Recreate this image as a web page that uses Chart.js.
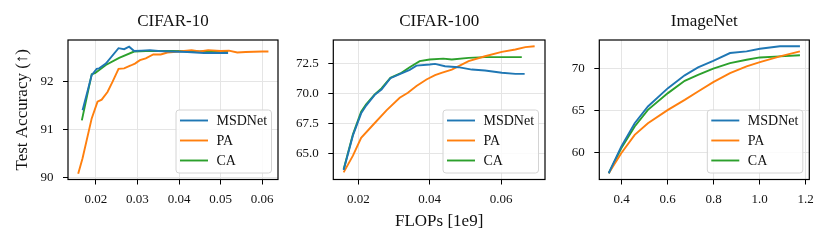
<!DOCTYPE html>
<html>
<head>
<meta charset="utf-8">
<script src="https://cdn.jsdelivr.net/npm/chart.js@4.4.1/dist/chart.umd.min.js"></script>
<style>
  html, body { margin: 0; padding: 0; background: #fff; }
  #wrap { position: relative; width: 830px; height: 248px; overflow: hidden; }
  canvas { position: absolute; top: 0; }
</style>
</head>
<body>
<div id="wrap">
  <canvas id="c1" width="285" height="248" style="left:0px"></canvas>
  <canvas id="c2" width="270" height="248" style="left:285px"></canvas>
  <canvas id="c3" width="275" height="248" style="left:555px"></canvas>
</div>
<script>
// series names + colours
const seriesNames = ['MSDNet', 'PA', 'CA'];
const seriesColors = ['#1f77b4', '#ff7f0e', '#2ca02c'];

// CIFAR-10 (FLOPs in 1e9, test accuracy %)
const c10MsdX = [0.0168, 0.0190, 0.0202, 0.0208, 0.0224, 0.02545, 0.0268, 0.0280, 0.0292, 0.0310, 0.0330, 0.0350, 0.0380, 0.0420, 0.0460, 0.0500, 0.0518];
const c10MsdY = [91.40, 92.13, 92.26, 92.27, 92.37, 92.69, 92.67, 92.72, 92.63, 92.64, 92.65, 92.63, 92.62, 92.61, 92.59, 92.59, 92.59];
const c10PaX = [0.01575, 0.0168, 0.0190, 0.0204, 0.0214, 0.0228, 0.0240, 0.02545, 0.0268, 0.0284, 0.0294, 0.0306, 0.0320, 0.0338, 0.0356, 0.0372, 0.0400, 0.0430, 0.0450, 0.0470, 0.0500, 0.0520, 0.0540, 0.0560, 0.0600, 0.0615];
const c10PaY = [90.08, 90.40, 91.23, 91.58, 91.62, 91.78, 91.99, 92.26, 92.27, 92.33, 92.37, 92.44, 92.48, 92.56, 92.56, 92.60, 92.62, 92.65, 92.62, 92.65, 92.63, 92.64, 92.60, 92.61, 92.62, 92.62];
const c10CaX = [0.01663, 0.0190, 0.0198, 0.0224, 0.0256, 0.0292, 0.0320, 0.0360, 0.0400, 0.0450, 0.0500, 0.0518];
const c10CaY = [91.19, 92.15, 92.17, 92.34, 92.49, 92.62, 92.63, 92.63, 92.63, 92.62, 92.63, 92.62];

// CIFAR-100
const c100MsdX = [0.0159, 0.0185, 0.0208, 0.0222, 0.0246, 0.0265, 0.0290, 0.0321, 0.0344, 0.0363, 0.0400, 0.0415, 0.0443, 0.0480, 0.0518, 0.0555, 0.0602, 0.0640, 0.0666];
const c100MsdY = [63.6, 66.5, 68.35, 69.0, 69.9, 70.35, 71.3, 71.7, 72.0, 72.35, 72.44, 72.5, 72.3, 72.22, 72.02, 71.94, 71.75, 71.66, 71.66];
const c100PaX = [0.0159, 0.0185, 0.0208, 0.0241, 0.0279, 0.0316, 0.0339, 0.0363, 0.0391, 0.0415, 0.0433, 0.0462, 0.0509, 0.0555, 0.0602, 0.0640, 0.0668, 0.0694];
const c100PaY = [63.4, 64.8, 66.3, 67.37, 68.6, 69.66, 70.08, 70.64, 71.19, 71.55, 71.75, 72.02, 72.73, 73.14, 73.5, 73.7, 73.9, 73.98];
const c100CaX = [0.0159, 0.0185, 0.0208, 0.0222, 0.0246, 0.0265, 0.0290, 0.0321, 0.0344, 0.0372, 0.0400, 0.0438, 0.0462, 0.0509, 0.0555, 0.0658];
const c100CaY = [63.66, 66.59, 68.49, 69.1, 69.93, 70.44, 71.33, 71.75, 72.22, 72.73, 72.86, 72.94, 72.86, 73.0, 73.06, 73.06];

// ImageNet (shared x)
const inX = [0.3435, 0.398, 0.4565, 0.514, 0.601, 0.674, 0.732, 0.798, 0.871, 0.943, 1.001, 1.088, 1.175];
const inMsdY = [57.54, 60.71, 63.49, 65.48, 67.65, 69.17, 70.12, 70.9, 71.82, 72.02, 72.33, 72.62, 72.62];
const inPaY = [57.54, 59.92, 62.1, 63.49, 65.07, 66.26, 67.26, 68.37, 69.44, 70.24, 70.75, 71.42, 72.02];
const inCaY = [57.54, 60.5, 63.1, 65.07, 67.06, 68.52, 69.24, 69.96, 70.63, 71.02, 71.3, 71.42, 71.55];

// tick labels
const c10XTicks = [0.02, 0.03, 0.04, 0.05, 0.06];
const c10YTicks = [90, 91, 92];
const c100XTicks = [0.02, 0.04, 0.06];
const c100YTicks = [65, 67.5, 70, 72.5];
const inXTicks = [0.4, 0.6, 0.8, 1.0, 1.2];
const inYTicks = [60, 65, 70];

const FONT = "'Liberation Serif', 'DejaVu Serif', serif";
const TXT = '#111';

const zip = (xs, ys) => xs.map((x, i) => ({ x: x, y: ys[i] }));

// frame, panel title and in-axes legend
const panelPlugin = {
  id: 'panel',
  afterDraw(chart, args, opts) {
    const { ctx, chartArea: a } = chart;
    ctx.save();
    // title
    ctx.fillStyle = TXT;
    ctx.font = '17px ' + FONT;
    ctx.textAlign = 'center';
    ctx.textBaseline = 'middle';
    ctx.fillText(opts.title, (a.left + a.right) / 2, 22);
    // legend
    const w = 95.5, h = 63;
    const lx = a.right - 6.5 - w, ly = a.bottom - 6.5 - h;
    ctx.beginPath();
    ctx.roundRect(lx, ly, w, h, 3);
    ctx.fillStyle = 'rgba(255,255,255,0.85)';
    ctx.fill();
    ctx.strokeStyle = '#d4d4d4';
    ctx.lineWidth = 1;
    ctx.stroke();
    ctx.font = '14px ' + FONT;
    ctx.textAlign = 'left';
    chart.data.datasets.forEach((ds, i) => {
      const y = ly + 10.5 + i * 20;
      ctx.beginPath();
      ctx.moveTo(lx + 4, y);
      ctx.lineTo(lx + 32, y);
      ctx.strokeStyle = ds.borderColor;
      ctx.lineWidth = 1.9;
      ctx.stroke();
      ctx.fillStyle = TXT;
      ctx.fillText(ds.label, lx + 40.5, y + 0.5);
    });
    // frame
    ctx.strokeStyle = '#000';
    ctx.lineWidth = 1.2;
    ctx.strokeRect(a.left, a.top, a.right - a.left, a.bottom - a.top);
    ctx.restore();
  }
};

function makeChart(id, cfg) {
  const datasets = cfg.series.map((d, i) => ({
    label: seriesNames[i],
    data: d,
    borderColor: seriesColors[i],
    backgroundColor: seriesColors[i],
    borderWidth: 1.9,
    pointRadius: 0,
    tension: 0,
    fill: false
  }));
  return new Chart(document.getElementById(id), {
    type: 'line',
    data: { datasets: datasets },
    plugins: [panelPlugin],
    options: {
      responsive: false,
      animation: false,
      devicePixelRatio: 1,
      layout: { padding: { top: 40, left: 0, right: cfg.padRight, bottom: cfg.padBottom } },
      plugins: {
        legend: { display: false },
        tooltip: { enabled: false },
        panel: { title: cfg.title }
      },
      scales: {
        x: {
          type: 'linear',
          min: cfg.xMin, max: cfg.xMax,
          afterBuildTicks: s => { s.ticks = cfg.xTicks.map(v => ({ value: v })); },
          afterFit: s => { s.height = cfg.xHeight; },
          ticks: {
            autoSkip: false, maxRotation: 0, padding: 7, color: TXT,
            font: { family: FONT, size: 13 },
            callback: v => Number(v).toFixed(cfg.xDec)
          },
          grid: { color: '#e5e5e5', lineWidth: 1, tickColor: '#000', tickLength: 5, tickWidth: 1 },
          border: { display: false },
          title: cfg.xTitle ? {
            display: true, text: cfg.xTitle, color: TXT,
            font: { family: FONT, size: 17 }, padding: { top: 0, bottom: 3 }
          } : { display: false }
        },
        y: {
          type: 'linear',
          min: cfg.yMin, max: cfg.yMax,
          afterBuildTicks: s => { s.ticks = cfg.yTicks.map(v => ({ value: v })); },
          afterFit: s => { s.width = cfg.yWidth; },
          ticks: {
            autoSkip: false, padding: 9.5, color: TXT,
            font: { family: FONT, size: 13 },
            callback: v => Number(v).toFixed(cfg.yDec)
          },
          grid: { color: '#e5e5e5', lineWidth: 1, tickColor: '#000', tickLength: 5, tickWidth: 1 },
          border: { display: false },
          title: cfg.yTitle ? {
            display: true, text: cfg.yTitle, color: TXT,
            font: { family: FONT, size: 17 }, padding: { top: 12, bottom: 0 }
          } : { display: false }
        }
      }
    }
  });
}

makeChart('c1', {
  title: 'CIFAR-10',
  series: [zip(c10MsdX, c10MsdY), zip(c10PaX, c10PaY), zip(c10CaX, c10CaY)],
  xMin: 0.0133, xMax: 0.0638, xTicks: c10XTicks, xDec: 2,
  yMin: 89.96, yMax: 92.86, yTicks: c10YTicks, yDec: 0,
  yWidth: 68, padRight: 7, xHeight: 25, padBottom: 43.5,
  yTitle: 'Test Accuracy (\u2191)'
});

makeChart('c2', {
  title: 'CIFAR-100',
  series: [zip(c100MsdX, c100MsdY), zip(c100PaX, c100PaY), zip(c100CaX, c100CaY)],
  xMin: 0.013, xMax: 0.0723, xTicks: c100XTicks, xDec: 2,
  yMin: 62.8, yMax: 74.5, yTicks: c100YTicks, yDec: 1,
  yWidth: 48.3, padRight: 10, xHeight: 55, padBottom: 13.5,
  xTitle: 'FLOPs [1e9]'
});

makeChart('c3', {
  title: 'ImageNet',
  series: [zip(inX, inMsdY), zip(inX, inPaY), zip(inX, inCaY)],
  xMin: 0.3026, xMax: 1.2157, xTicks: inXTicks, xDec: 1,
  yMin: 56.8, yMax: 73.37, yTicks: inYTicks, yDec: 0,
  yWidth: 44.3, padRight: 20.7, xHeight: 25, padBottom: 43.5
});
</script>
</body>
</html>
